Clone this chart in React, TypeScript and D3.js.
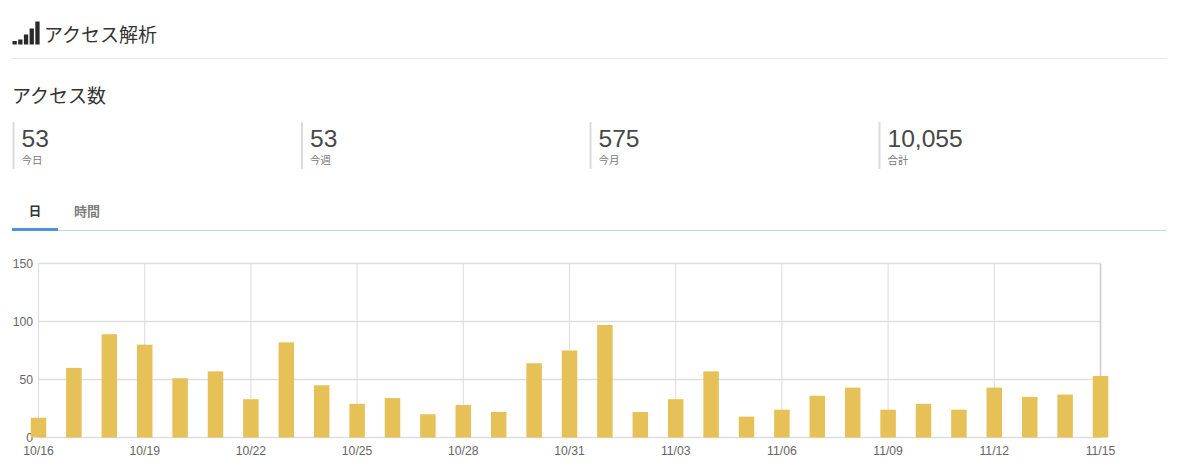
import React from "react";
import * as d3 from "d3";

const dates = ["10/16","10/17","10/18","10/19","10/20","10/21","10/22","10/23","10/24","10/25","10/26","10/27","10/28","10/29","10/30","10/31","11/01","11/02","11/03","11/04","11/05","11/06","11/07","11/08","11/09","11/10","11/11","11/12","11/13","11/14","11/15"];
const counts = [17,60,89,80,51,57,33,82,45,29,34,20,28,22,64,75,97,22,33,57,18,24,36,43,24,29,24,43,35,37,53];
const yTicks = [0,50,100,150];
const summaryValues = ["53","53","575","10,055"];
const summaryLabels = ["今日","今週","今月","合計"];
const tabLabels = ["日","時間"];

const font = "'Noto Sans CJK JP','Liberation Sans',sans-serif";
const numFont = "'Liberation Sans',Arial,sans-serif";

export default function App() {
  const x = d3.scalePoint<string>().domain(dates).range([38.5, 1100.5]);
  const y = d3.scaleLinear().domain([0, 150]).range([437.5, 263.5]);
  const barW = 15.5;
  const xTickLabels = dates.filter((_, i) => i % 3 === 0);
  const summaryX = [13.5, 302, 590.5, 879.5];
  const signal = [3.5, 5, 10, 16, 23];
  return (
    <svg width={1200} height={470} style={{ position: "fixed", left: 0, top: 0, background: "#fff" }}>
      {signal.map((h, i) => (
        <rect key={i} x={12.5 + i * 5.7} y={44.5 - h} width={4.3} height={h} fill="#2a2a2a" />
      ))}
      <text x={44} y={42} fontFamily={font} fontSize={19} fill="#333">アクセス解析</text>
      <line x1={12} x2={1167} y1={58.5} y2={58.5} stroke="#e4e8e9" />
      <text x={12} y={103} fontFamily={font} fontSize={19} fill="#333">アクセス数</text>

      {summaryValues.map((v, i) => (
        <g key={i}>
          <rect x={summaryX[i] - 1} y={122} width={2} height={47} fill="#dcdcdc" />
          <text x={summaryX[i] + 8} y={147} fontFamily={numFont} fontSize={24.6} fill="#484848">{v}</text>
          <text x={summaryX[i] + 8} y={164} fontFamily={font} fontSize={10.5} fill="#777">{summaryLabels[i]}</text>
        </g>
      ))}

      <text x={35} y={216} textAnchor="middle" fontFamily={font} fontSize={12.5} fontWeight={700} fill="#333">{tabLabels[0]}</text>
      <text x={87} y={216} textAnchor="middle" fontFamily={font} fontSize={13} fontWeight={700} fill="#808080">{tabLabels[1]}</text>
      <line x1={12} x2={1167} y1={230.5} y2={230.5} stroke="#c5d8e2" />
      <rect x={12} y={228} width={46} height={3} fill="#4a94e0" />

      {yTicks.map((t) => (
        <g key={t}>
          <line x1={38.5} x2={1100.5} y1={y(t)} y2={y(t)} stroke="#dedede" strokeWidth={1.3} />
          <text x={33} y={y(t) + 4.5} textAnchor="end" fontFamily={numFont} fontSize={12.2} fill="#666">{t}</text>
        </g>
      ))}
      {xTickLabels.map((d, i) => (
        <g key={d}>
          <line x1={x(d)} x2={x(d)} y1={263.5} y2={437.5}
            stroke={i === xTickLabels.length - 1 ? "#cccccc" : "#dcdcdc"}
            strokeWidth={i === xTickLabels.length - 1 ? 1.6 : 1} />
          <text x={x(d)} y={455} textAnchor="middle" fontFamily={numFont} fontSize={12.2} fill="#666">{d}</text>
        </g>
      ))}
      {dates.map((d, i) => (
        <rect key={d} x={x(d)! - barW / 2} y={y(counts[i])} width={barW} height={y(0) - y(counts[i])} fill="#e6c158" />
      ))}
    </svg>
  );
}
